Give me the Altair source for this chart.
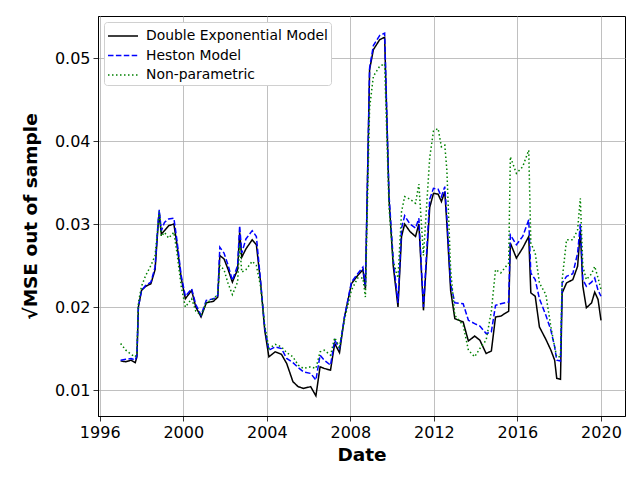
import altair as alt
import pandas as pd

years = [1997.00, 1997.25, 1997.50, 1997.70, 1997.78, 1997.85, 1998.00, 1998.20, 1998.45, 1998.65,
         1998.80, 1998.85, 1998.95, 1999.10, 1999.30, 1999.55, 1999.70, 1999.90, 2000.10, 2000.40,
         2000.60, 2000.85, 2001.10, 2001.45, 2001.65, 2001.75, 2001.95, 2002.15, 2002.35, 2002.60,
         2002.70, 2002.80, 2003.00, 2003.30, 2003.50, 2003.70, 2003.90, 2004.10, 2004.40, 2004.70,
         2004.95, 2005.25, 2005.50, 2005.75, 2006.10, 2006.35, 2006.55, 2006.75, 2007.05, 2007.25,
         2007.48, 2007.72, 2008.05, 2008.35, 2008.60, 2008.72, 2008.92, 2009.10, 2009.40, 2009.64,
         2009.85, 2010.05, 2010.28, 2010.45, 2010.60, 2010.85, 2011.12, 2011.28, 2011.50, 2011.80,
         2011.98, 2012.20, 2012.36, 2012.52, 2012.62, 2012.80, 2013.00, 2013.40, 2013.65, 2013.95,
         2014.20, 2014.50, 2014.75, 2014.95, 2015.20, 2015.58, 2015.66, 2015.95, 2016.25, 2016.54,
         2016.64, 2016.85, 2017.05, 2017.36, 2017.60, 2017.78, 2017.88, 2018.06, 2018.14, 2018.35,
         2018.65, 2018.88, 2019.01, 2019.13, 2019.30, 2019.55, 2019.70, 2019.86, 2020.00]

double_exp = [0.0135, 0.0134, 0.0136, 0.0133, 0.0140, 0.0200, 0.0220, 0.0225, 0.0228, 0.0245,
              0.0300, 0.0312, 0.0288, 0.0292, 0.0298, 0.0300, 0.0275, 0.0235, 0.0210, 0.0220,
              0.0200, 0.0188, 0.0205, 0.0207, 0.0212, 0.0262, 0.0258, 0.0245, 0.0230, 0.0245,
              0.0290, 0.0260, 0.0270, 0.0281, 0.0275, 0.0230, 0.0172, 0.0140, 0.0146, 0.0143,
              0.0132, 0.0110, 0.0104, 0.0102, 0.0104, 0.0093, 0.0128, 0.0126, 0.0124, 0.0156,
              0.0145, 0.0188, 0.0228, 0.0238, 0.0245, 0.0222, 0.0486, 0.0510, 0.0522, 0.0525,
              0.0330, 0.0250, 0.0200, 0.0285, 0.0300, 0.0291, 0.0285, 0.0300, 0.0196, 0.0320,
              0.0337, 0.0336, 0.0327, 0.0339, 0.0300, 0.0220, 0.0186, 0.0182, 0.0159, 0.0165,
              0.0160, 0.0144, 0.0147, 0.0188, 0.0189, 0.0195, 0.0277, 0.0259, 0.0271, 0.0285,
              0.0217, 0.0213, 0.0176, 0.0161, 0.0148, 0.0136, 0.0114, 0.0113, 0.0217, 0.0229,
              0.0233, 0.0249, 0.0292, 0.0225, 0.0199, 0.0205, 0.0218, 0.0209, 0.0184]

heston = [0.0136, 0.0137, 0.0138, 0.0136, 0.0142, 0.0200, 0.0220, 0.0226, 0.0230, 0.0248,
          0.0305, 0.0317, 0.0292, 0.0302, 0.0306, 0.0307, 0.0280, 0.0238, 0.0213, 0.0222,
          0.0203, 0.0190, 0.0208, 0.0210, 0.0214, 0.0272, 0.0265, 0.0250, 0.0232, 0.0250,
          0.0298, 0.0265, 0.0282, 0.0292, 0.0285, 0.0232, 0.0175, 0.0148, 0.0152, 0.0150,
          0.0138, 0.0133, 0.0127, 0.0122, 0.0120, 0.0112, 0.0142, 0.0136, 0.0130, 0.0160,
          0.0150, 0.0188, 0.0230, 0.0240, 0.0248, 0.0225, 0.0488, 0.0515, 0.0527, 0.0530,
          0.0335, 0.0258, 0.0205, 0.0295, 0.0310, 0.0300, 0.0295, 0.0307, 0.0200, 0.0330,
          0.0343, 0.0342, 0.0333, 0.0345, 0.0308, 0.0228, 0.0205, 0.0204, 0.0184, 0.0180,
          0.0177, 0.0168, 0.0170, 0.0202, 0.0204, 0.0206, 0.0287, 0.0275, 0.0285, 0.0305,
          0.0241, 0.0233, 0.0210, 0.0190, 0.0172, 0.0152, 0.0136, 0.0135, 0.0229, 0.0237,
          0.0240, 0.0265, 0.0300, 0.0233, 0.0225, 0.0230, 0.0235, 0.0220, 0.0213]

nonparam = [0.0156, 0.0148, 0.0143, 0.0140, 0.0145, 0.0205, 0.0225, 0.0238, 0.0250, 0.0262,
            0.0300, 0.0315, 0.0285, 0.0290, 0.0283, 0.0290, 0.0265, 0.0225, 0.0200, 0.0210,
            0.0195, 0.0190, 0.0205, 0.0210, 0.0215, 0.0250, 0.0245, 0.0228, 0.0215, 0.0230,
            0.0275, 0.0242, 0.0245, 0.0255, 0.0250, 0.0225, 0.0178, 0.0150, 0.0155, 0.0152,
            0.0145, 0.0140, 0.0130, 0.0126, 0.0128, 0.0126, 0.0146, 0.0148, 0.0142, 0.0163,
            0.0152, 0.0185, 0.0220, 0.0235, 0.0235, 0.0212, 0.0440, 0.0478, 0.0490, 0.0493,
            0.0320, 0.0255, 0.0235, 0.0315, 0.0333, 0.0330, 0.0325, 0.0348, 0.0262, 0.0380,
            0.0412, 0.0415, 0.0393, 0.0395, 0.0365, 0.0245, 0.0190, 0.0178, 0.0148, 0.0140,
            0.0150, 0.0160, 0.0195, 0.0245, 0.0241, 0.0253, 0.0381, 0.0361, 0.0369, 0.0389,
            0.0277, 0.0265, 0.0229, 0.0215, 0.0176, 0.0152, 0.0140, 0.0140, 0.0233, 0.0281,
            0.0281, 0.0293, 0.0331, 0.0249, 0.0233, 0.0240, 0.0249, 0.0235, 0.0221]

series_names = ["Double Exponential Model", "Heston Model", "Non-parametric"]
series_colors = ["#000000", "#0000ff", "#008000"]
series_dashes = [[1, 0], [5.5, 2.4], [1.5, 2.5]]


def to_date(y):
    yr = int(y)
    start = pd.Timestamp(year=yr, month=1, day=1)
    end = pd.Timestamp(year=yr + 1, month=1, day=1)
    return start + (end - start) * (y - yr)


rows = []
for name, vals in zip(series_names, [double_exp, heston, nonparam]):
    for y, v in zip(years, vals):
        rows.append({"Date": to_date(y), "value": v, "model": name})
df = pd.DataFrame(rows)

font = "DejaVu Sans"

legend_cfg = dict(title=None, orient="top-left", offset=6,
                  symbolType="M-1.5,0L1.5,0", symbolSize=400,
                  symbolStrokeWidth=1.5, symbolOffset=5,
                  labelFontSize=13.9, labelFont=font, labelColor="black",
                  labelLimit=400, rowPadding=1.5,
                  padding=3, fillColor="white",
                  strokeColor="#d0d0d0", cornerRadius=3,
                  labelOffset=12)

chart = alt.Chart(df).mark_line(strokeWidth=1.5, clip=True).encode(
    x=alt.X("Date:T",
            scale=alt.Scale(domain=[alt.DateTime(year=1995, month=12, date=2),
                                    alt.DateTime(year=2021, month=2, date=24)]),
            axis=alt.Axis(values=[alt.DateTime(year=y) for y in range(1996, 2021, 4)],
                          format="%Y", title="Date")),
    y=alt.Y("value:Q",
            scale=alt.Scale(domain=[0.00687, 0.05506], nice=False, zero=False),
            axis=alt.Axis(values=[0.01, 0.02, 0.03, 0.04, 0.05], format=".2f",
                          title="√MSE  out of sample")),
    color=alt.Color("model:N",
                    scale=alt.Scale(domain=series_names, range=series_colors),
                    legend=alt.Legend(**legend_cfg)),
    strokeDash=alt.StrokeDash("model:N",
                              scale=alt.Scale(domain=series_names, range=series_dashes),
                              legend=alt.Legend(**legend_cfg)),
).properties(
    width=527, height=400,
    autosize=alt.AutoSizeParams(type="none"),
    padding={"left": 90, "top": 8, "right": 5, "bottom": 56},
).configure_view(
    stroke="black", strokeWidth=1
).configure_axis(
    grid=True, gridColor="#b0b0b0", gridWidth=0.8,
    domainColor="black", domainWidth=1,
    tickColor="black", tickSize=5, tickWidth=0.8,
    labelFont=font, labelFontSize=16, labelColor="black", labelPadding=3,
    titleFont=font, titleFontSize=18.5, titleFontWeight="bold", titleColor="black",
).configure_axisY(
    titlePadding=14
).configure_axisX(
    titlePadding=5, labelFlush=False
)

chart.save("out.html", embed_options={"renderer": "svg", "actions": False})
